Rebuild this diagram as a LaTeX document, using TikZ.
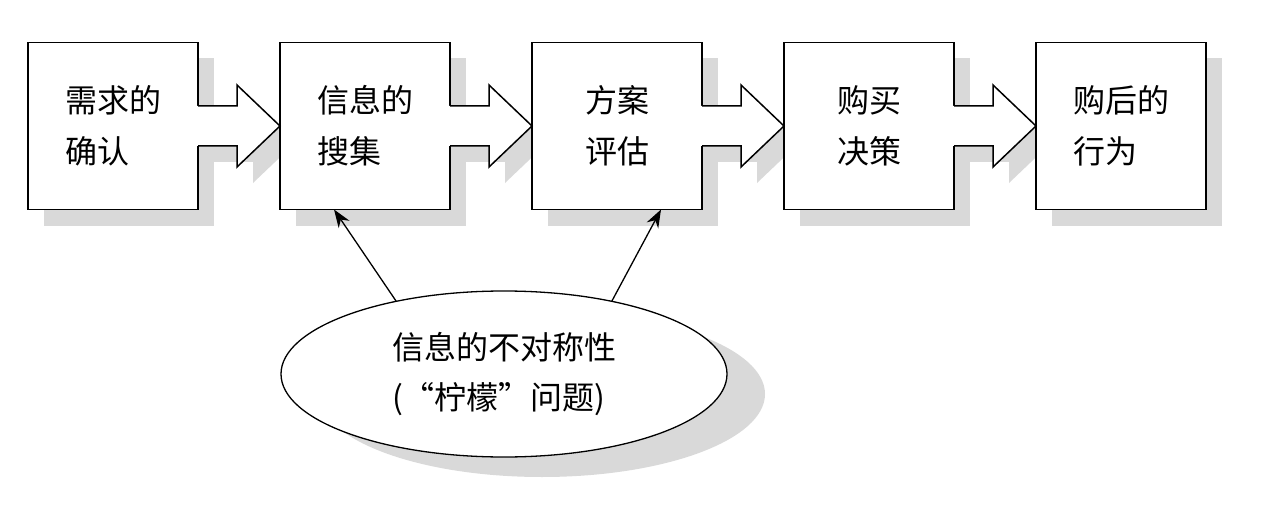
\documentclass[tikz,border=0pt]{standalone}
\usepackage{fontspec}
\newfontfamily\cjk{Noto Sans CJK SC}
\usetikzlibrary{positioning,shapes.geometric,shadows,backgrounds,arrows.meta,calc}
\definecolor{shadowgray}{gray}{0.85}
\begin{document}
\begin{tikzpicture}[x=1pt, y=-1pt, >={Stealth[length=18pt,width=13pt]}, node distance=82pt,
  stage/.style={draw, line width=1.5pt, fill=white, minimum width=170pt, minimum height=167pt,
    inner sep=0pt, outer sep=0pt, align=left, font=\cjk\fontsize{32}{51}\selectfont,
    drop shadow={shadow xshift=16pt, shadow yshift=-16pt, fill=shadowgray, opacity=1}}]
\useasboundingbox (0,0) rectangle (1277,508);
\node[stage] (b1) at (113,126) {需求的\\确认};
\node[stage, right=of b1] (b2) {信息的\\搜集};
\node[stage, right=of b2] (b3) {方案\\评估};
\node[stage, right=of b3] (b4) {购买\\决策};
\node[stage, right=of b4] (b5) {购后的\\行为};
\node[draw, ellipse, line width=1.3pt, fill=white, minimum width=446pt, minimum height=166pt,
  inner sep=0pt, outer sep=0pt, align=left, font=\cjk\fontsize{32}{50}\selectfont,
  drop shadow={shadow xshift=38pt, shadow yshift=-20pt, fill=shadowgray, opacity=1}]
  (asym) at (504,374) {信息的不对称性\\(“柠檬”问题)};
% block arrows between the stages
\begin{pgfonlayer}{background}
\foreach \i/\j in {1/2,2/3,3/4,4/5}
  \fill[shadowgray, transform canvas={shift={(16pt,-16pt)}}] ($(b\i.east)+(0,-20)$) -- ++(39,0) -- ++(0,-21)
    -- (b\j.west) -- ++(-43,41) -- ++(0,-21) -- ++(-39,0) -- cycle;
\end{pgfonlayer}
\foreach \i/\j in {1/2,2/3,3/4,4/5} {
  \fill[white] ($(b\i.east)+(-2,-20)$) -- ++(41,0) -- ++(0,-21) -- (b\j.west) -- ++(-43,41)
    -- ++(0,-21) -- ++(-41,0) -- cycle;
  \draw[line width=1.5pt] ($(b\i.east)+(0,-20)$) -- ++(39,0) -- ++(0,-21) -- (b\j.west)
    -- ++(-43,41) -- ++(0,-21) -- ++(-39,0);
}
\draw[->, line width=1.3pt] (asym.146) -- ([xshift=-31pt]b2.south);
\draw[->, line width=1.3pt] (asym.34) -- ([xshift=44pt]b3.south);
\end{tikzpicture}
\end{document}
